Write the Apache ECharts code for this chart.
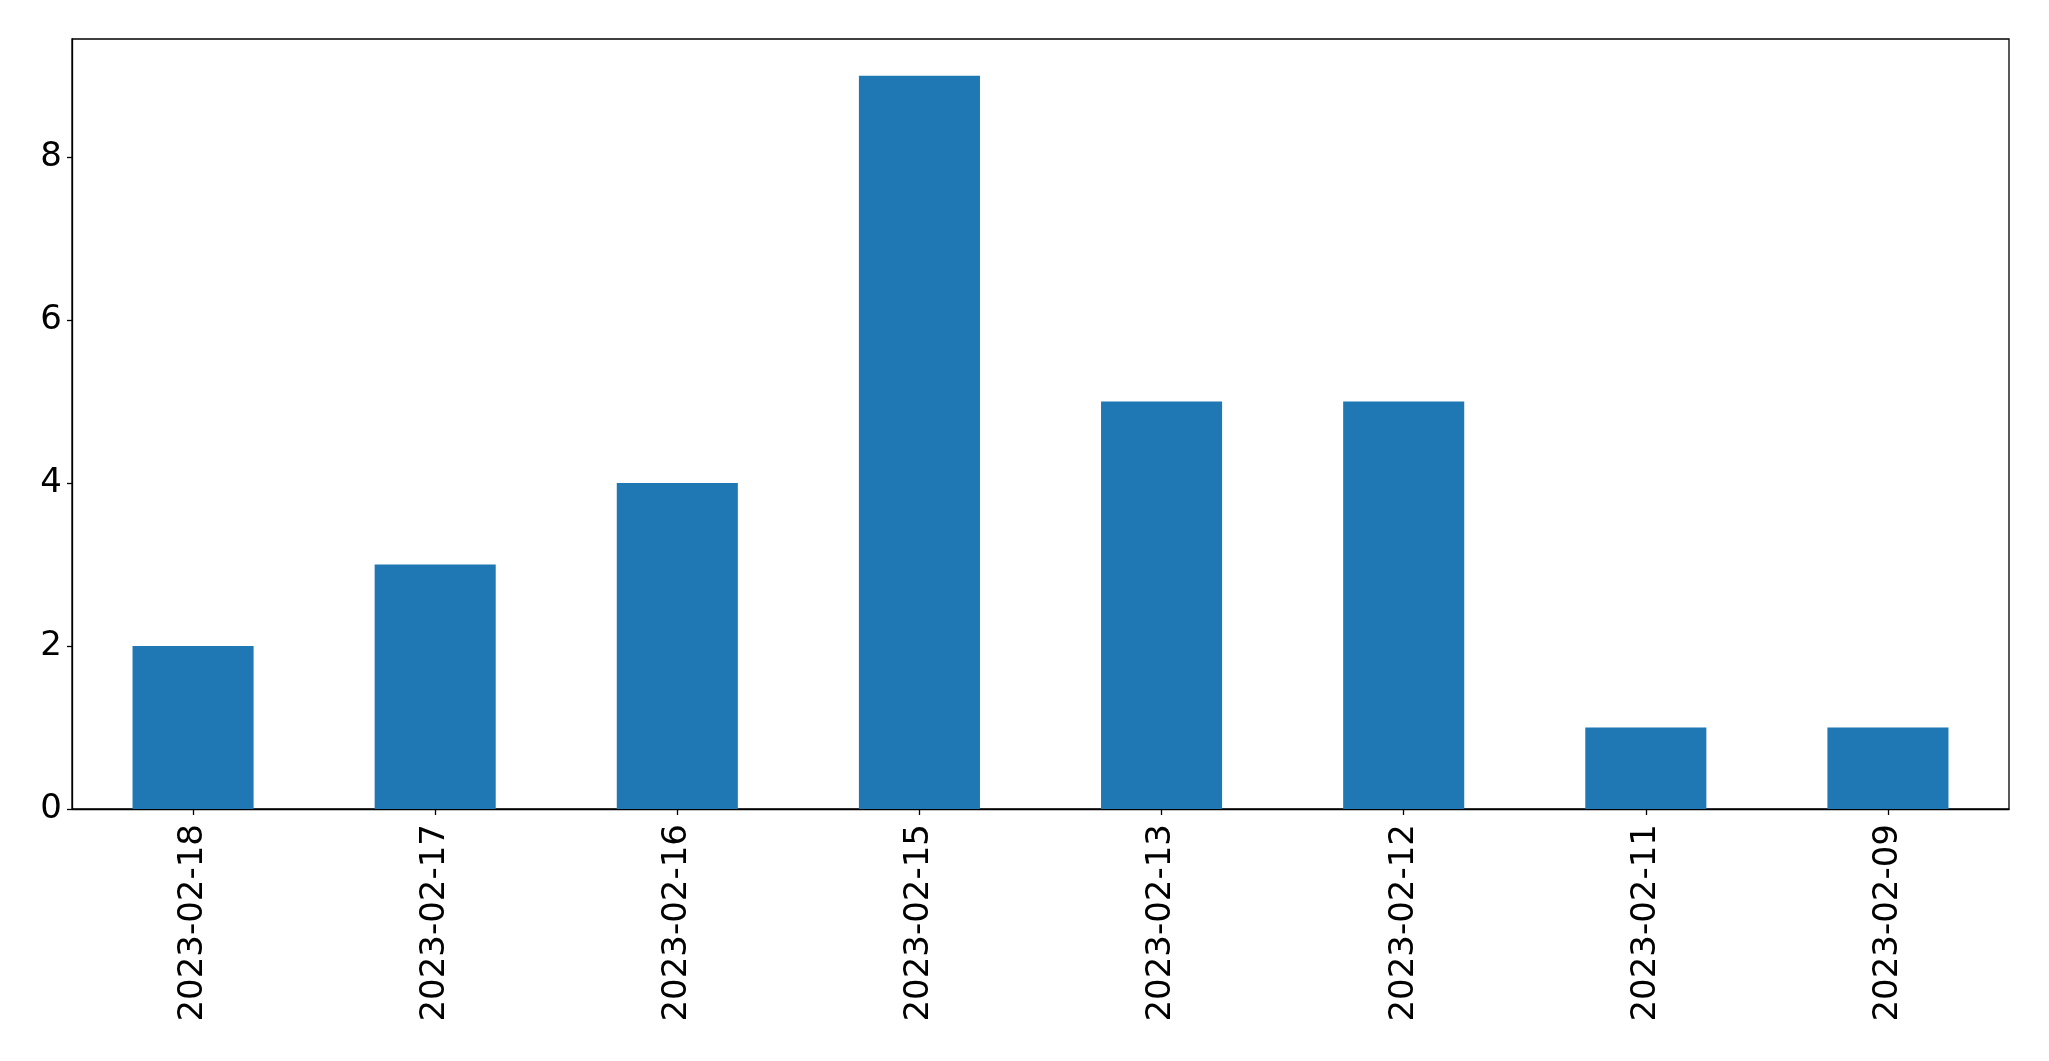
<!DOCTYPE html>
<html>
<head>
<meta charset="utf-8">
<script src="https://cdn.jsdelivr.net/npm/echarts@6/dist/echarts.min.js"></script>
<style>
html,body{margin:0;padding:0;background:#fff;}
#chart{width:2049px;height:1061px;}
</style>
</head>
<body>
<div id="chart"></div>
<script>
const categories = ['2023-02-18','2023-02-17','2023-02-16','2023-02-15','2023-02-13','2023-02-12','2023-02-11','2023-02-09'];
const counts = [2, 3, 4, 9, 5, 5, 1, 1];
const yTicks = [0, 2, 4, 6, 8];

const chart = echarts.init(document.getElementById('chart'), null, {renderer: 'canvas'});
const font = 'DejaVu Sans';
chart.setOption({
  animation: false,
  backgroundColor: '#ffffff',
  grid: {
    left: 72, right: 40, top: 39, bottom: 252,
    show: true, borderColor: '#000', borderWidth: 1.3, backgroundColor: 'transparent'
  },
  xAxis: {
    type: 'category',
    data: categories,
    boundaryGap: true,
    axisLine: {show: true, lineStyle: {color: '#000', width: 1.3}},
    axisTick: {show: true, alignWithLabel: true, length: 6, lineStyle: {color: '#000', width: 1.3}},
    axisLabel: {rotate: 90, fontSize: 34, fontFamily: font, color: '#000', margin: 15, interval: 0},
    splitLine: {show: false}
  },
  yAxis: {
    type: 'value',
    min: 0,
    max: 9.45,
    interval: 2,
    axisLine: {show: true, lineStyle: {color: '#000', width: 1.3}},
    axisTick: {show: true, length: 5, lineStyle: {color: '#000', width: 1.3}, customValues: yTicks},
    axisLabel: {fontSize: 34, fontFamily: font, color: '#000', margin: 10, customValues: yTicks},
    splitLine: {show: false}
  },
  series: [{
    type: 'bar',
    data: counts,
    barWidth: '50%',
    itemStyle: {color: '#1f77b4'}
  }]
});
</script>
</body>
</html>
